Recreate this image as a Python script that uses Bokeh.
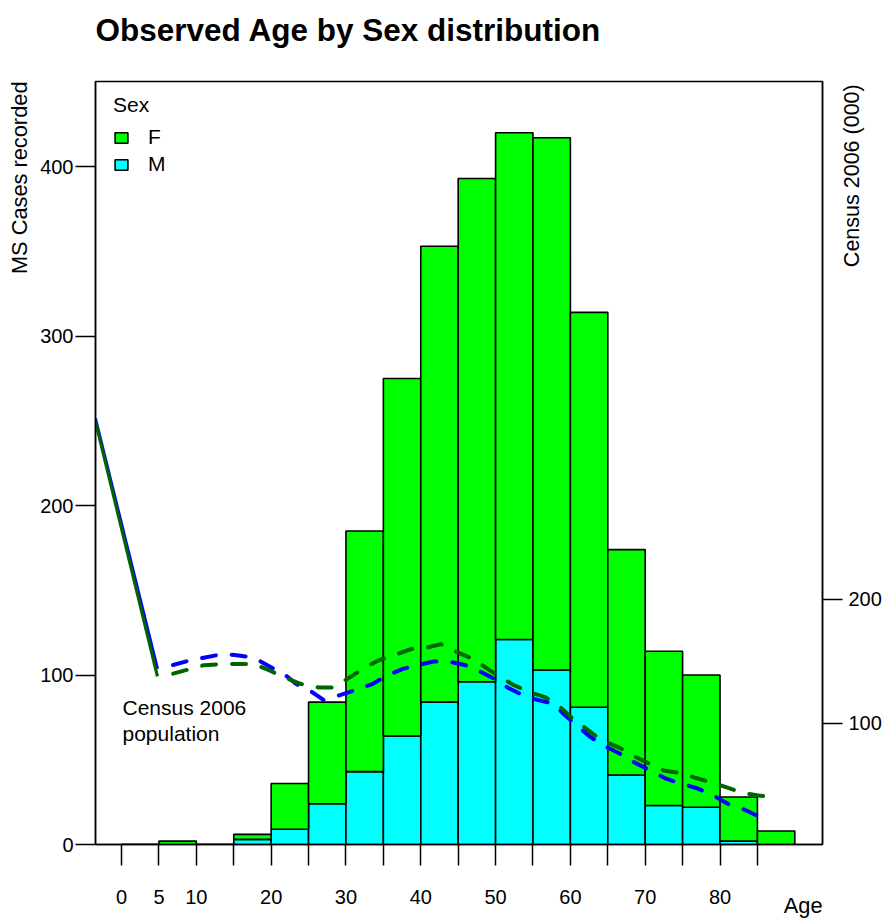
from math import pi

from bokeh.embed import file_html
from bokeh.models import (ColumnDataSource, FixedTicker, Label, Legend, LegendItem,
                          LinearAxis, Range1d, Title)
from bokeh.plotting import figure
from bokeh.resources import INLINE

# MS cases by 5-year age band (lower bound of each band)
age_lo = [0, 5, 10, 15, 20, 25, 30, 35, 40, 45, 50, 55, 60, 65, 70, 75, 80, 85]
cases_m = [0, 0, 0, 3, 9, 24, 43, 64, 84, 96, 121, 103, 81, 41, 23, 22, 2, 0]
cases_f = [0, 2, 0, 3, 27, 60, 142, 211, 269, 297, 299, 314, 233, 133, 91, 78, 26, 8]

# Census 2006 population (thousands) by age, male and female
census_m_age = [-3.5, 4.8, 6.8, 9.2, 11.0, 13.5, 15.4, 17.7, 19.5, 21.9, 23.3, 25.3, 27.0,
                29.3, 31.3, 33.6, 35.6, 37.6, 39.6, 41.7, 43.7, 46.0, 47.9, 49.8, 51.6,
                53.6, 55.6, 57.7, 59.4, 61.1, 62.7, 64.5, 66.5, 68.4, 70.4, 72.6, 74.5,
                76.8, 79.1, 81.1, 83.1, 85.2]
census_m = [346, 144, 147, 151, 153, 156, 155, 153, 147, 139, 132, 126, 119,
            123, 127, 132, 139, 144, 147, 150, 150, 147, 142, 136, 129,
            123, 119, 116, 106, 97, 89, 82, 76, 69, 63, 56, 52,
            48, 42, 35, 31, 25]

census_f_age = [-3.5, 4.8, 6.8, 9.2, 11.0, 13.5, 15.4, 17.7, 19.7, 21.9, 23.9, 26.4, 28.2,
                30.2, 32.2, 34.4, 36.4, 38.7, 40.7, 42.7, 44.7, 47.0, 48.7, 50.7, 52.4,
                54.7, 56.7, 58.7, 60.3, 62.5, 64.3, 66.4, 68.4, 70.4, 72.5, 74.8, 76.8,
                79.1, 81.1, 83.1, 85.1, 87.5]
census_f = [344, 138, 140, 144, 147, 148, 148, 148, 143, 137, 132, 129, 129,
            136, 144, 151, 155, 160, 161, 164, 158, 152, 145, 137, 131,
            125, 121, 113, 104, 94, 86, 81, 74, 68, 62, 60, 56,
            52, 48, 44, 42, 40]

x_ticks = [0, 5, 10, 15, 20, 25, 30, 35, 40, 45, 50, 55, 60, 65, 70, 75, 80, 85]
x_tick_labels = {0: "0", 5: "5", 10: "10", 20: "20", 30: "30", 40: "40",
                 50: "50", 60: "60", 70: "70", 80: "80"}
y_ticks = [0, 100, 200, 300, 400]
census_ticks = [100, 200]

FONT = "Liberation Sans"
GREEN = "#00FF00"
CYAN = "#00FFFF"

# page layout (pixels)
W, H = 887, 918
LEFT, RIGHT, TOP, BOTTOM = 95, 822, 81, 844
X0, X1 = -3.48, 93.7
Y0, Y1 = 0.0, 450.2
C0, C1 = 2.4, 617.7


def ax(px):
    return X0 + (px - LEFT) * (X1 - X0) / (RIGHT - LEFT)


def ay(py):
    return Y0 + (BOTTOM - py) * (Y1 - Y0) / (BOTTOM - TOP)


def cy(py):
    return C0 + (BOTTOM - py) * (C1 - C0) / (BOTTOM - TOP)


p = figure(width=W, height=H, output_backend="svg", toolbar_location=None,
           x_range=Range1d(X0, X1), y_range=Range1d(Y0, Y1),
           min_border_left=LEFT, min_border_right=W - RIGHT,
           min_border_top=TOP, min_border_bottom=H - BOTTOM)
p.extra_y_ranges = {"census": Range1d(C0, C1)}
p.grid.visible = False
p.outline_line_color = "black"
p.outline_line_width = 1.5
p.outline_line_alpha = 1.0
p.background_fill_color = "white"
p.border_fill_color = "white"

# stacked bars: M at the bottom, F on top
src = ColumnDataSource(dict(mid=[a + 2.5 for a in age_lo], M=cases_m, F=cases_f))
bars = p.vbar_stack(["M", "F"], x="mid", width=5, source=src,
                    fill_color=[CYAN, GREEN], line_color="black", line_width=1.6)

# census population curves on the secondary axis
for ages, vals, col in ((census_m_age, census_m, "#0000FF"),
                        (census_f_age, census_f, "#006400")):
    p.line(ages[:2], vals[:2], y_range_name="census", line_color=col, line_width=3.2)
    p.line(ages[1:], vals[1:], y_range_name="census", line_color=col, line_width=4,
           line_dash="14 16", line_dash_offset=14, line_cap="round", line_join="round")

# axes
xa = p.xaxis[0]
xa.ticker = FixedTicker(ticks=x_ticks)
xa.major_label_overrides = {t: x_tick_labels.get(t, "") for t in x_ticks}
ya = p.yaxis[0]
ya.ticker = FixedTicker(ticks=y_ticks)
ra = LinearAxis(y_range_name="census", ticker=FixedTicker(ticks=census_ticks))
p.add_layout(ra, "right")

for a, standoff in ((xa, 24), (ya, 2), (ra, 6)):
    a.axis_line_color = "black"
    a.axis_line_width = 1.5
    a.major_tick_line_color = "black"
    a.major_tick_line_width = 1.5
    a.major_tick_in = 0
    a.major_tick_out = 21 if a is xa else 20
    a.minor_tick_line_color = None
    a.major_label_text_font = FONT
    a.major_label_text_font_size = "20px"
    a.major_label_text_color = "black"
    a.major_label_standoff = standoff

# right-hand title, written upwards from its lower end near the top of the frame
census_title_at = round(cy(267))
rt = LinearAxis(y_range_name="census", ticker=FixedTicker(ticks=[census_title_at]),
                major_label_overrides={census_title_at: "Census 2006 (000)"},
                major_label_orientation=pi / 2, major_label_standoff=-32,
                major_label_text_font=FONT, major_label_text_font_size="21.5px",
                major_label_text_color="black",
                axis_line_color=None, major_tick_line_color=None,
                minor_tick_line_color=None, major_tick_in=0, major_tick_out=0)
p.add_layout(rt, "right")


def side_title(txt, side, size="21.8px", **kw):
    t = Title(text=txt, text_font=FONT, text_font_size=size, text_color="black",
              text_font_style=kw.pop("text_font_style", "normal"), **kw)
    p.add_layout(t, side)
    return t


# heading: a thin spacer next to the frame, then the heading text
side_title(" ", "above", size="1px", standoff=31)
side_title("Observed Age by Sex distribution", "above", size="31.5px",
           text_font_style="bold", align="left", vertical_align="bottom", standoff=0)
side_title("MS Cases recorded", "left", align="right", vertical_align="top", standoff=8)
side_title("Age", "below", align="right", vertical_align="top", standoff=-28)

# legend
legend = Legend(items=[LegendItem(label="F", renderers=[bars[1]]),
                       LegendItem(label="M", renderers=[bars[0]])],
                location=(9, 659), title="Sex",
                title_text_font=FONT, title_text_font_size="21px",
                title_text_font_style="normal", title_text_color="black",
                title_standoff=8,
                label_text_font=FONT, label_text_font_size="21px",
                label_text_color="black",
                glyph_width=16, glyph_height=13, label_standoff=19,
                spacing=3, padding=9, margin=0,
                border_line_alpha=0, background_fill_alpha=0)
p.add_layout(legend)

# annotation next to the census curves
for txt, py in (("Census 2006", 707), ("population", 733)):
    p.add_layout(Label(x=ax(122), y=ay(py), text=txt, text_font=FONT,
                       text_font_size="21px", text_color="black",
                       text_baseline="alphabetic"))

open("out.html", "w").write(file_html(p, INLINE))
